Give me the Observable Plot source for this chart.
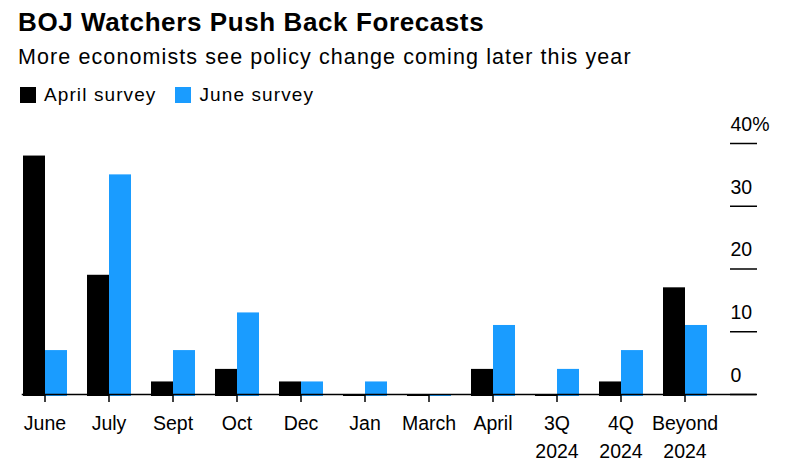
<!DOCTYPE html>
<html><head><meta charset="utf-8">
<script src="https://cdn.jsdelivr.net/npm/d3@7"></script>
<script src="https://cdn.jsdelivr.net/npm/@observablehq/plot@0.6"></script>
<style>
body{margin:0;background:#fff;font-family:"Liberation Sans",Arial,sans-serif;width:788px;height:462px;overflow:hidden;position:relative;color:#000}
#title{position:absolute;left:18px;top:7px;font-size:26px;font-weight:bold;letter-spacing:0.6px}
#subtitle{position:absolute;left:18px;top:45px;font-size:21.5px;letter-spacing:1.1px}
#legend{position:absolute;left:20px;top:84px;font-size:19px;letter-spacing:1.1px;display:flex;align-items:center}
.sw{display:inline-block;width:16px;height:16px;margin-right:8px}
.item{display:flex;align-items:center;margin-right:19px}
#chart{position:absolute;left:0;top:110px}
</style></head>
<body>
<div id="title">BOJ Watchers Push Back Forecasts</div>
<div id="subtitle">More economists see policy change coming later this year</div>
<div id="legend"></div>
<div id="chart"></div>
<script>
const categories = ["June","July","Sept","Oct","Dec","Jan","March","April","3Q 2024","4Q 2024","Beyond 2024"];
const aprilSurvey = [38,19,2,4,2,0,0,4,0,2,17];
const juneSurvey = [7,35,7,13,2,2,0,11,4,7,11];
const seriesNames = ["April survey","June survey"];
const seriesColors = ["#000000","#1a9cff"];
const yTicks = [0,10,20,30,40];

const rows = [];
categories.forEach((c,i)=>{
  rows.push({cat:c, series:seriesNames[0], value:aprilSurvey[i]});
  rows.push({cat:c, series:seriesNames[1], value:juneSurvey[i]});
});

const legend = document.getElementById("legend");
seriesNames.forEach((s,i)=>{
  const d = document.createElement("div"); d.className="item";
  d.innerHTML = `<span class="sw" style="background:${seriesColors[i]}"></span>${s}`;
  legend.appendChild(d);
});

const chart = Plot.plot({
  width: 788, height: 352,
  marginTop: 33, marginBottom: 68, marginLeft: 18, marginRight: 77,
  style: {fontFamily: '"Liberation Sans", Arial, sans-serif', fontSize: "19.5px", color: "#000", background: "transparent"},
  fx: {domain: categories, paddingInner: 0.3, paddingOuter: 0, label: null},
  x: {domain: seriesNames, padding: 0, axis: null},
  y: {domain: [0, 40], axis: null},
  color: {domain: seriesNames, range: seriesColors},
  marks: [
    Plot.barY(rows, {fx: "cat", x: "series", y: "value", fill: "series", insetLeft: 0, insetRight: 0, insetBottom: -2}),
    Plot.frame({anchor: "bottom", facet: "super", stroke: "#000", strokeWidth: 1.5, insetRight: -48}),
    Plot.axisFx({anchor: "bottom", tickSize: 8, tickPadding: 7, fontSize: 19.5, lineHeight: 1.45, strokeWidth: 1.5, tickFormat: d => d.replace(" ", "\n"), label: null}),
    Plot.axisY(yTicks, {anchor: "right", tickSize: 27, dx: 22, fill: "none", strokeWidth: 1.5, label: null}),
    Plot.axisY(yTicks, {anchor: "right", tickSize: 0, tickPadding: 0, dx: 23, dy: -19, textAnchor: "start", fontSize: 19.5, stroke: "none", tickFormat: d => d === 40 ? "40%" : String(d), label: null})
  ]
});
document.getElementById("chart").appendChild(chart);
</script>
</body></html>
